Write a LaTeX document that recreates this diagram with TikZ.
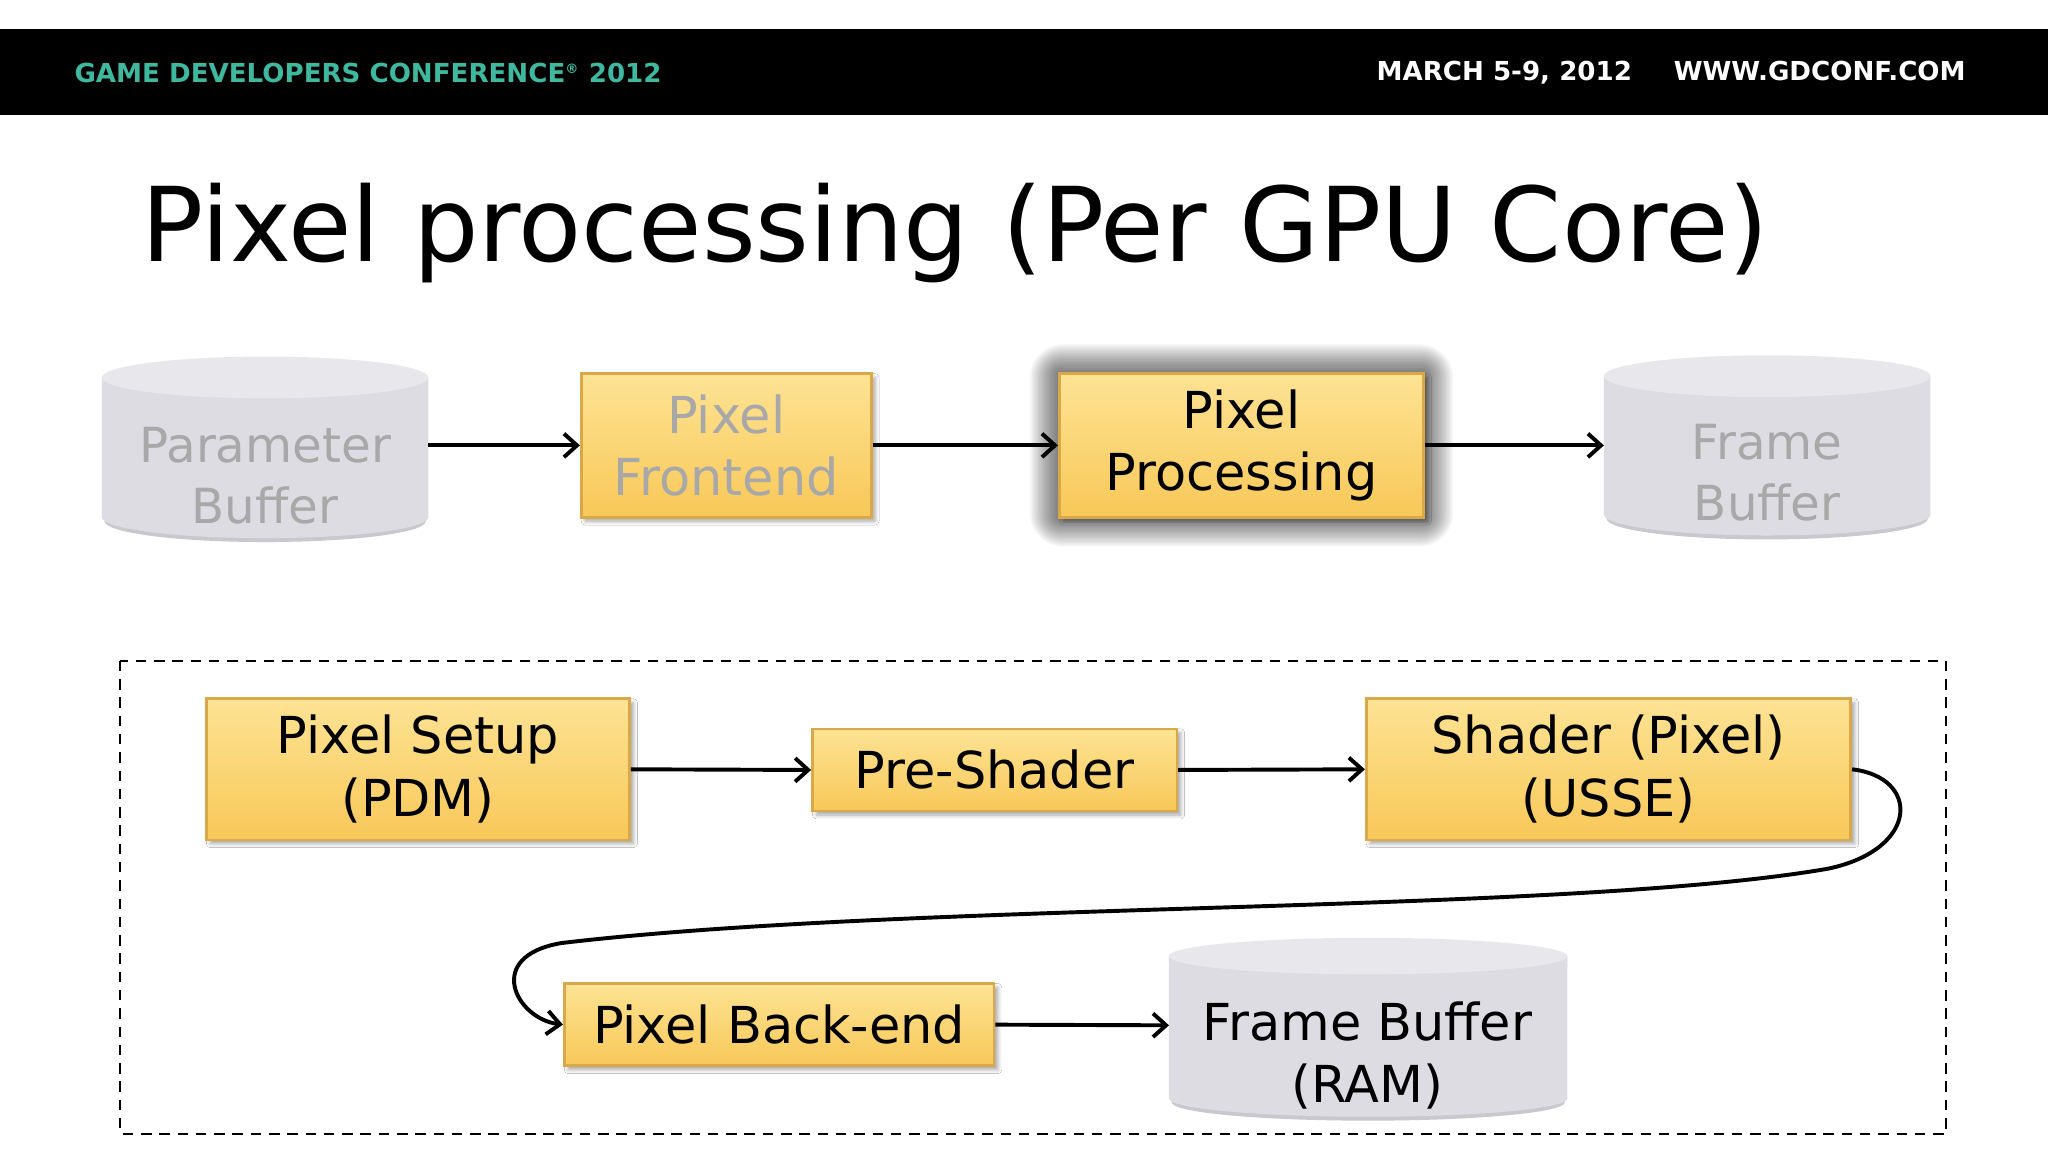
\documentclass[tikz,border=0pt]{standalone}
\usepackage{fontspec}
\setmainfont{DejaVu Sans}
\newfontfamily\hdr{DejaVu Sans}
\usetikzlibrary{shadows.blur,arrows.meta}
\definecolor{teal}{HTML}{3FB8A0}
\definecolor{cylg}{HTML}{DCDCE2}
\definecolor{cylt}{HTML}{E8E8EC}
\definecolor{cyls}{HTML}{C8C8CE}
\definecolor{fade}{HTML}{A8A8A8}
\definecolor{ytop}{HTML}{FDE394}
\definecolor{ybot}{HTML}{F8C858}
\definecolor{yedge}{HTML}{D9A848}
\tikzset{
  box/.style={draw=yedge, line width=1pt, top color=ytop, bottom color=ybot, align=center, inner sep=0pt,
     font=\fontsize{19.5}{24}\selectfont, blur shadow={shadow xshift=1.5pt, shadow yshift=-1.5pt, shadow blur radius=1.5pt, shadow opacity=35}},
  faded/.style={text=fade},
  arr/.style={-{Straight Barb[length=5pt,width=9pt]}, line width=1.5pt},
}
\newcommand{\mycyl}[5]{% x1 y1 x2 y2 ry
  \fill[cyls] (#1+2,#2+#5) -- (#1+2,#4-#5+3) arc[start angle=180,end angle=360,x radius={((#3-#1)/2-2)*0.5pt},y radius=#5*0.5pt] -- (#3-2,#2+#5) -- cycle;
  \fill[cylg] (#1,#2+#5) -- (#1,#4-#5) arc[start angle=180,end angle=360,x radius={(#3-#1)/2*0.5pt},y radius=#5*0.5pt] -- (#3,#2+#5) -- cycle;
  \fill[cylt] ({(#1+#3)/2},#2+#5) ellipse[x radius={(#3-#1)/2*0.5pt},y radius=#5*0.5pt];
}
\begin{document}
\begin{tikzpicture}[x=0.5pt,y=-0.5pt]
\useasboundingbox (0,0) rectangle (1568,882);
\fill[white] (0,0) rectangle (1568,882);
\fill[black] (0,22) rectangle (1568,88);
\node[anchor=west, text=teal, font=\hdr\bfseries\fontsize{10}{12}\selectfont] (h1) at (50,56) {GAME DEVELOPERS CONFERENCE\textsuperscript{\tiny ®} 2012};
\node[anchor=east, text=white, font=\hdr\bfseries\fontsize{10}{12}\selectfont] (h2) at (1512,56) {MARCH 5-9, 2012\hspace{16pt}WWW.GDCONF.COM};
\node[anchor=base west, font=\fontsize{39.5}{48}\selectfont, inner sep=0pt] (title) at (108,200) {Pixel processing (Per GPU Core)};

% glow behind Pixel Processing
\foreach \i in {1,...,16}{
  \fill[black, opacity=0.04, rounded corners=0.8*\i pt] (811-1.4*\i,286-1.4*\i) rectangle (1090+1.4*\i,396+1.4*\i);
}

% top row
\mycyl{78}{273}{328}{412}{16}
\node[faded, align=center, font=\fontsize{18.5}{23.5}\selectfont] (pb) at (203,364) {Parameter\\Buffer};
\mycyl{1228}{272}{1478}{410}{16}
\node[faded, align=center, font=\fontsize{18.5}{23.5}\selectfont] (fb) at (1353,362) {Frame\\Buffer};
\node[box, faded, minimum width=111pt, minimum height=55pt] (pf) at (556,341) {Pixel\\Frontend};
\node[box, minimum width=139.5pt, minimum height=55pt] (pp) at (950.5,341) {Pixel\\Processing};
\coordinate (pbr) at (328,341);
\coordinate (fbl) at (1228,341);
\draw[arr] (pbr) -- (pf.west);
\draw[arr] (pf.east) -- (pp.west);
\draw[arr] (pp.east) -- (fbl);

% detail
\draw[line width=0.8pt, dash pattern=on 4pt off 3pt] (92,506) rectangle (1490,868);
\node[box, minimum width=162pt, minimum height=54pt] (ps) at (320,589) {Pixel Setup\\(PDM)};
\node[box, minimum width=139.5pt, minimum height=31.5pt] (pre) at (761.5,589.5) {Pre-Shader};
\node[box, minimum width=185.5pt, minimum height=54pt] (sh) at (1231.5,589) {Shader (Pixel)\\(USSE)};
\node[box, minimum width=164.5pt, minimum height=31.5pt] (be) at (596.5,784.5) {Pixel Back-end};
\mycyl{895}{718}{1200}{855}{14}
\node[align=center, font=\fontsize{19.5}{24}\selectfont] (ram) at (1047,808) {Frame Buffer\\(RAM)};
\coordinate (raml) at (895,785);
\draw[arr] (ps.east) -- (pre.west);
\draw[arr] (pre.east) -- (sh.west);
\draw[arr] (be.east) -- (raml);
\draw[arr] (sh.east) .. controls (1470,595) and (1470,650) .. (1400,665)
  .. controls (1200,700) and (700,690) .. (430,722)
  .. controls (370,732) and (395,780) .. (be.west);
\end{tikzpicture}
\end{document}
